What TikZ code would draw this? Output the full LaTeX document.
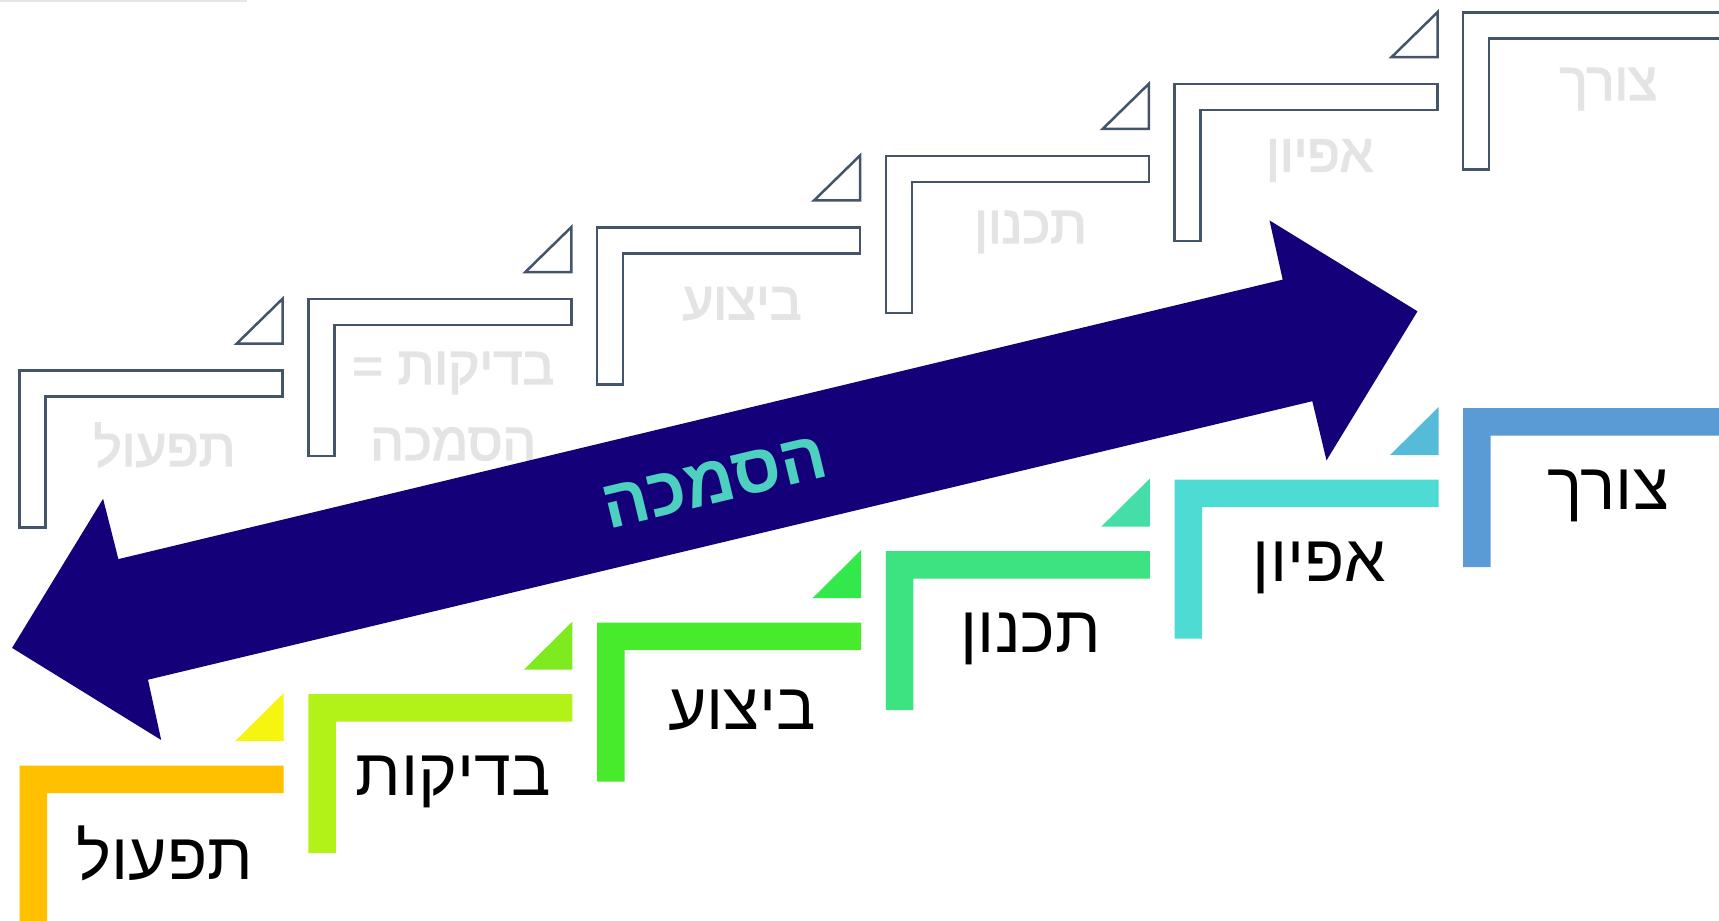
\documentclass[tikz,border=0pt]{standalone}
\usepackage{fontspec}
\setmainfont{Liberation Sans}
\newfontfamily\heb[Script=Hebrew]{Liberation Sans}
\newfontfamily\hebghost[Script=Hebrew,FakeBold=2.5]{Liberation Sans}
\TeXXeTstate=1
\definecolor{navy}{HTML}{140078}
\definecolor{slate}{HTML}{44546A}
\definecolor{arrowtxt}{HTML}{4DD0C0}
\definecolor{ghosttext}{HTML}{E4E4E4}
\definecolor{topline}{HTML}{E6E6E6}
\definecolor{ca}{HTML}{FFC000}
\definecolor{cb}{HTML}{B3F219}
\definecolor{cc}{HTML}{47EB2B}
\definecolor{cd}{HTML}{3DE380}
\definecolor{ce}{HTML}{4DDBD3}
\definecolor{cf}{HTML}{5B9BD5}
\definecolor{ta}{HTML}{F5F50F}
\definecolor{tb}{HTML}{7DEB1F}
\definecolor{tc}{HTML}{33E84A}
\definecolor{td}{HTML}{45DEA8}
\definecolor{te}{HTML}{55BBD8}
\begin{document}
\begin{tikzpicture}[x=1pt,y=-1pt,
  outl/.style={draw=slate, line width=2.5pt, fill=white, line join=miter},
  lab/.style={font=\heb\fontsize{66}{72}\selectfont, text=black, inner sep=0pt},
  ghostlab/.style={font=\hebghost\fontsize{53}{60}\selectfont, text=ghosttext, inner sep=0pt},
  arrowlab/.style={font=\heb\bfseries\fontsize{69}{72}\selectfont, text=arrowtxt, inner sep=0pt}]
\fill[white] (0,0) rectangle (1719,921);
\useasboundingbox (0,0) rectangle (1719,921);
\draw[topline, line width=2pt] (0,1) -- (247,1);
% upper (outline) staircase
\foreach \k in {0,...,5} {
  \pgfmathsetmacro\lx{19.7+288.7*\k}
  \pgfmathsetmacro\ty{370.6-71.6*\k}
  \draw[outl] (\lx,\ty) -- ++(263,0) -- ++(0,26) -- ++(-237,0) -- ++(0,131) -- ++(-26,0) -- cycle;
}
\foreach \k in {0,...,4} {
  \pgfmathsetmacro\lx{19.7+288.7*\k}
  \pgfmathsetmacro\ty{370.6-71.6*\k}
  \draw[outl] (\lx+263,\ty-27) -- ++(0,-45) -- ++(-46,45) -- cycle;
}
% ghost labels
\node[ghostlab] (ga) at (164.5,445) {\beginR תפעול\endR};
\node[ghostlab] (gb) at (453.2,373) {\beginR בדיקות =\endR};
\node[ghostlab] (gb2) at (453.2,444) {\beginR הסמכה\endR};
\node[ghostlab] (gc) at (742,303.7) {\beginR ביצוע\endR};
\node[ghostlab] (gd) at (1030.5,232) {\beginR תכנון\endR};
\node[ghostlab] (ge) at (1319.5,160.5) {\beginR אפיון\endR};
\node[ghostlab] (gf) at (1608.3,89) {\beginR צורך\endR};
% lower (coloured) staircase
\foreach \k/\lc/\lab in {0/ca/תפעול,1/cb/בדיקות,2/cc/ביצוע,3/cd/תכנון,4/ce/אפיון,5/cf/צורך} {
  \pgfmathsetmacro\lx{19.7+288.7*\k}
  \pgfmathsetmacro\ty{765.6-71.5*\k}
  \fill[\lc] (\lx,\ty) -- ++(264,0) -- ++(0,27.5) -- ++(-236.5,0) -- ++(0,131.5) -- ++(-27.5,0) -- cycle;
  \node[lab] (lab\k) at (\lx+145,\ty+88) {\beginR\lab\endR};
}
\foreach \k/\tcol in {0/ta,1/tb,2/tc,3/td,4/te} {
  \pgfmathsetmacro\lx{19.7+288.7*\k}
  \pgfmathsetmacro\ty{765.6-71.5*\k}
  \fill[\tcol] (\lx+264,\ty-24.5) -- ++(0,-48) -- ++(-48.5,48) -- cycle;
}
% double arrow
\fill[navy] (12.1,647.9) -- (103.1,498.8) -- (118.4,559.1) -- (1282.7,279.6) -- (1269.5,220.4) -- (1417.5,311.3) -- (1326.5,460.4) -- (1312.3,401.2) -- (148,679.7) -- (161.2,740) -- cycle;
\node[arrowlab, rotate=13.5] (hasmacha) at (714.8,482.4) {\beginR הסמכה\endR};
\end{tikzpicture}
\end{document}
